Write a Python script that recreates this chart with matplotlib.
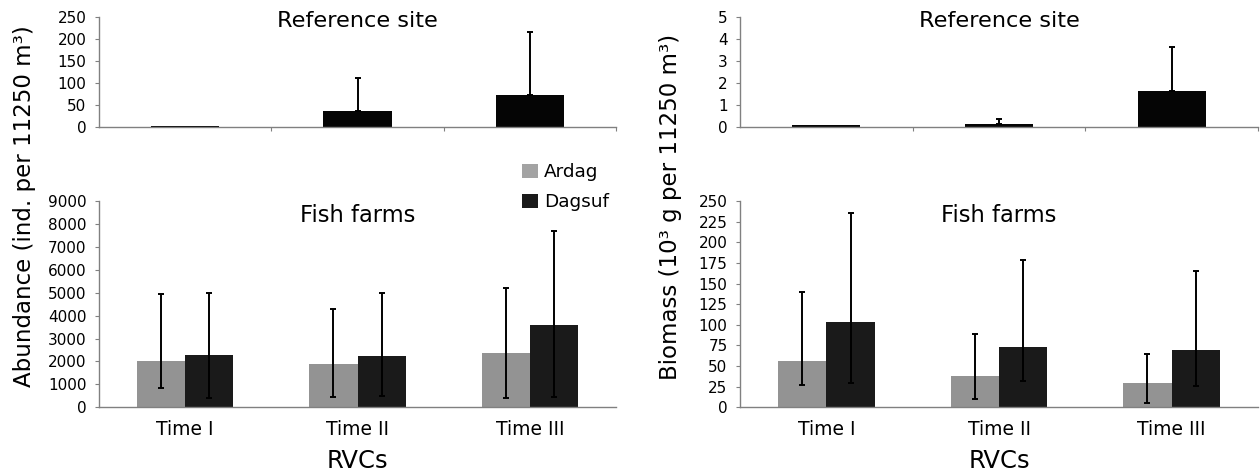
import numpy as np
import matplotlib
matplotlib.use('Agg')
import matplotlib.pyplot as plt
from matplotlib.patches import Patch

plt.rcParams['font.family'] = ['DejaVu Sans']

# data
times = ['Time I', 'Time II', 'Time III']
species = ['Ardag', 'Dagsuf']

# reference site (single series, upper error only)
ref_abund = [2, 37, 73]
ref_abund_hi = [2, 111, 216]
ref_biom = [0.07, 0.14, 1.65]
ref_biom_hi = [0.07, 0.36, 3.64]

# fish farms: mean with lower / upper limits
ardag_abund = [2020, 1880, 2380]
ardag_abund_lo = [850, 450, 405]
ardag_abund_hi = [4930, 4270, 5190]
dagsuf_abund = [2260, 2230, 3610]
dagsuf_abund_lo = [425, 490, 455]
dagsuf_abund_hi = [4970, 4970, 7670]

ardag_biom = [55.6, 38.5, 29]
ardag_biom_lo = [26.5, 10.5, 5.8]
ardag_biom_hi = [139.5, 88.5, 64.5]
dagsuf_biom = [103, 73.5, 69]
dagsuf_biom_lo = [29, 32, 26]
dagsuf_biom_hi = [235.5, 179, 165]

GREY = '#939393'
DARK = '#1a1a1a'
SPINE = '#808080'
W, H = 1260, 474


def style(ax, yticks):
    for s in ['top', 'right']:
        ax.spines[s].set_visible(False)
    for s in ['left', 'bottom']:
        ax.spines[s].set_color(SPINE)
        ax.spines[s].set_linewidth(1)
    ax.set_xlim(-0.5, 2.5)
    ax.set_ylim(yticks[0], yticks[-1])
    ax.set_yticks(yticks)
    ax.tick_params(axis='y', length=3, color=SPINE, pad=6, labelsize=11)


def errs(mean, lo, hi):
    mean = np.array(mean)
    return [mean - np.array(lo), np.array(hi) - mean]


def top_panel(ax, vals, hi, yticks):
    x = np.arange(len(times))
    ax.bar(x, vals, width=0.395, color='#050505')
    vals, hi = np.array(vals), np.array(hi)
    m = hi > vals
    ax.errorbar(x[m], vals[m], yerr=[np.zeros(m.sum()), hi[m] - vals[m]], fmt='none',
                ecolor='black', elinewidth=1.4, capsize=2.2, capthick=1.4)
    style(ax, yticks)
    ax.set_xticks([0.5, 1.5, 2.5])
    ax.set_xticklabels([])
    ax.tick_params(axis='x', length=3, color=SPINE, direction='out')
    ax.text(0.5, 0.912, 'Reference site', transform=ax.transAxes,
            ha='center', va='baseline', fontsize=16.1)


def bottom_panel(ax, a, a_lo, a_hi, d, d_lo, d_hi, yticks):
    x = np.arange(len(times))
    w = 0.28
    ax.bar(x - w/2, a, width=w, color=GREY, label=species[0])
    ax.bar(x + w/2, d, width=w, color=DARK, label=species[1])
    ax.errorbar(x - w/2, a, yerr=errs(a, a_lo, a_hi), fmt='none', ecolor='black',
                elinewidth=1.4, capsize=2.2, capthick=1.4)
    ax.errorbar(x + w/2, d, yerr=errs(d, d_lo, d_hi), fmt='none', ecolor='black',
                elinewidth=1.4, capsize=2.2, capthick=1.4)
    style(ax, yticks)
    ax.set_xticks(x)
    ax.set_xticklabels(times, fontsize=13.5)
    ax.tick_params(axis='x', length=0, pad=9)
    ax.text(0.5, 0.9, 'Fish farms', transform=ax.transAxes,
            ha='center', va='baseline', fontsize=16.3)


fig = plt.figure(figsize=(W/100, H/100), dpi=100)

lx, lw = 99/W, 517/W
rx, rw = 740/W, 518/W
ty, th = 1 - 127/H, 110/H
by, bh = 1 - 407.3/H, 206.3/H

ax1 = fig.add_axes([lx, ty, lw, th])
ax2 = fig.add_axes([lx, by, lw, bh])
ax3 = fig.add_axes([rx, ty, rw, th])
ax4 = fig.add_axes([rx, by, rw, bh])

top_panel(ax1, ref_abund, ref_abund_hi, np.arange(0, 251, 50))
bottom_panel(ax2, ardag_abund, ardag_abund_lo, ardag_abund_hi,
             dagsuf_abund, dagsuf_abund_lo, dagsuf_abund_hi, np.arange(0, 9001, 1000))
top_panel(ax3, ref_biom, ref_biom_hi, np.arange(0, 6, 1))
bottom_panel(ax4, ardag_biom, ardag_biom_lo, ardag_biom_hi,
             dagsuf_biom, dagsuf_biom_lo, dagsuf_biom_hi, np.arange(0, 251, 25))

# legend
handles = [Patch(facecolor='#a3a3a3', edgecolor='none'), Patch(facecolor=DARK, edgecolor='none')]
fig.legend(handles, species, loc='upper left', bbox_to_anchor=(522/W, 1 - 163/H),
           frameon=False, fontsize=13.3, borderpad=0, borderaxespad=0,
           handlelength=0.85, handleheight=0.8, handletextpad=0.36, labelspacing=0.67)

# axis titles
fig.text(25/W, 1 - 206/H, 'Abundance (ind. per 11250 m³)', rotation=90,
         ha='center', va='center', fontsize=16.5)
fig.text(671/W, 1 - 207/H, 'Biomass (10³ g per 11250 m³)', rotation=90,
         ha='center', va='center', fontsize=16.5)
fig.text(lx + lw/2, 1 - 468/H, 'RVCs', ha='center', va='baseline', fontsize=17.5)
fig.text(rx + rw/2, 1 - 468/H, 'RVCs', ha='center', va='baseline', fontsize=17.5)

fig.savefig('out.png', dpi=100)
